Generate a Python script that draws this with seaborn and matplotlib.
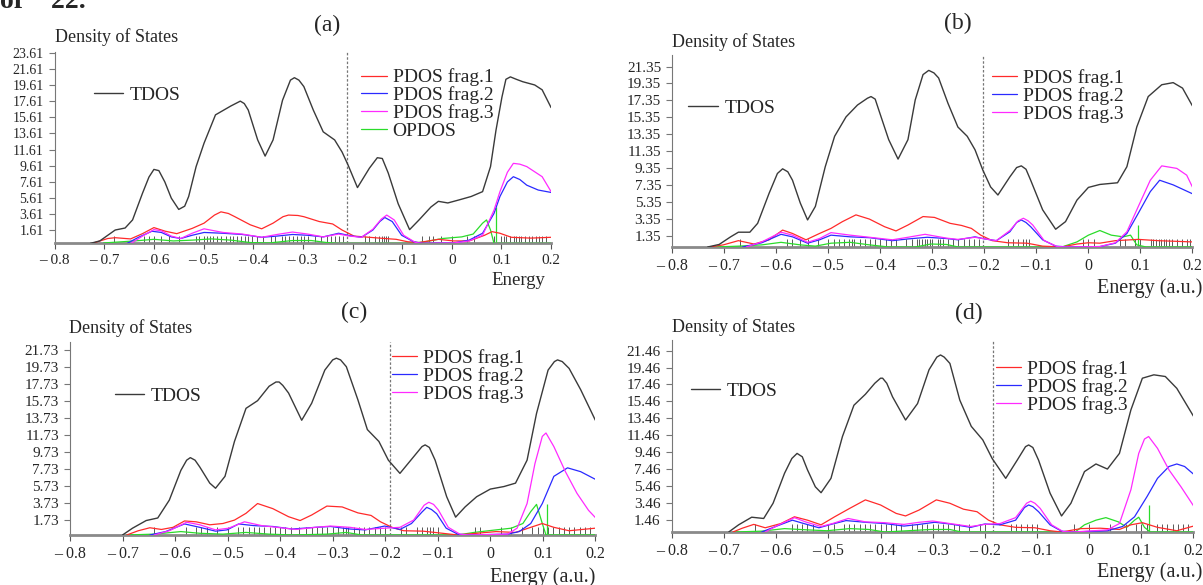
import matplotlib
matplotlib.use("Agg")
import matplotlib.pyplot as plt
import seaborn as sns

sns.set_theme(style="white")
plt.rcParams['font.family'] = ['Liberation Serif', 'DejaVu Serif']
plt.rcParams['axes.unicode_minus'] = False

# x axis (energy, a.u.)
x_ticks = [-0.8, -0.7, -0.6, -0.5, -0.4, -0.3, -0.2, -0.1, 0.0, 0.1, 0.2]
x_tick_labels = ["– 0.8", "– 0.7", "– 0.6", "– 0.5", "– 0.4", "– 0.3",
                 "– 0.2", "– 0.1", "0", "0.1", "0.2"]

# ---------------- panel (a) ----------------
a_yticks = [1.61, 3.61, 5.61, 7.61, 9.61, 11.61, 13.61, 15.61, 17.61, 19.61, 21.61, 23.61]
a_homo = -0.211
a_tdos_x = [-0.728, -0.709, -0.678, -0.658, -0.643, -0.623, -0.610, -0.600, -0.590, -0.578,
            -0.565, -0.550, -0.538, -0.530, -0.515, -0.499, -0.476, -0.445, -0.426, -0.418,
            -0.410, -0.391, -0.376, -0.360, -0.341, -0.325, -0.317, -0.308, -0.298, -0.279,
            -0.259, -0.236, -0.221, -0.209, -0.190, -0.166, -0.150, -0.140, -0.128, -0.108,
            -0.085, -0.066, -0.042, -0.027, -0.008, 0.016, 0.039, 0.062, 0.078, 0.089,
            0.101, 0.109, 0.118, 0.130, 0.143, 0.167, 0.182, 0.200]
a_tdos_y = [0.0, 0.3, 1.65, 1.9, 2.9, 6.2, 8.2, 9.15, 9.0, 7.6,
            5.6, 4.2, 4.6, 5.8, 9.5, 12.4, 15.9, 17.0, 17.6, 17.3,
            16.5, 12.8, 10.8, 12.8, 17.7, 20.2, 20.5, 20.2, 19.4, 16.5,
            13.8, 12.8, 11.3, 9.7, 6.9, 9.3, 10.6, 10.5, 8.7, 4.9,
            1.7, 2.9, 4.5, 5.2, 5.0, 5.4, 5.8, 6.4, 9.5, 14.0,
            18.1, 20.3, 20.6, 20.3, 20.0, 19.6, 19.0, 16.8]
a_f1_x = [-0.724, -0.693, -0.678, -0.647, -0.623, -0.600, -0.577, -0.554, -0.523, -0.499,
          -0.478, -0.465, -0.450, -0.437, -0.406, -0.383, -0.360, -0.340, -0.329, -0.310,
          -0.298, -0.267, -0.240, -0.221, -0.197, -0.166, -0.135, -0.112, -0.089, -0.066,
          -0.027, 0.004, 0.035, 0.066, 0.081, 0.097, 0.120, 0.159, 0.200]
a_f1_y = [0.0, 0.6, 0.7, 0.55, 1.2, 1.95, 1.5, 1.2, 1.85, 2.5,
          3.5, 3.9, 3.7, 3.3, 2.3, 1.8, 2.5, 3.3, 3.5, 3.45,
          3.3, 2.7, 2.4, 1.65, 0.9, 0.75, 0.6, 0.5, 0.2, 0.1,
          0.5, 0.3, 0.3, 1.0, 1.45, 1.25, 0.75, 0.65, 0.75]
a_f2_x = [-0.654, -0.631, -0.604, -0.585, -0.565, -0.546, -0.523, -0.499, -0.461, -0.422,
          -0.383, -0.352, -0.321, -0.290, -0.259, -0.228, -0.205, -0.182, -0.159, -0.145,
          -0.135, -0.120, -0.101, -0.077, -0.058, 0.004, 0.035, 0.062, 0.085, 0.097,
          0.112, 0.124, 0.137, 0.151, 0.174, 0.200]
a_f2_y = [0.0, 0.75, 1.5, 1.35, 0.8, 0.6, 1.0, 1.35, 1.25, 1.1,
          0.75, 0.9, 1.1, 1.0, 0.8, 1.25, 0.95, 0.75, 1.65, 2.7,
          3.2, 2.7, 1.0, 0.2, 0.0, 0.05, 0.4, 1.25, 3.7, 5.8,
          7.6, 8.25, 7.9, 7.2, 6.6, 6.3]
a_f3_x = [-0.646, -0.623, -0.600, -0.585, -0.565, -0.546, -0.523, -0.499, -0.461, -0.422,
          -0.383, -0.352, -0.321, -0.290, -0.259, -0.228, -0.205, -0.182, -0.159, -0.142,
          -0.131, -0.116, -0.097, -0.073, -0.058, 0.004, 0.035, 0.062, 0.085, 0.097,
          0.112, 0.124, 0.137, 0.151, 0.182, 0.200]
a_f3_y = [0.0, 0.9, 1.7, 1.55, 0.9, 0.6, 1.25, 1.8, 1.35, 1.15,
          0.75, 1.1, 1.4, 1.15, 0.8, 1.15, 0.9, 0.75, 1.75, 3.0,
          3.5, 2.9, 1.0, 0.1, 0.0, 0.05, 0.3, 1.0, 4.1, 6.4,
          8.8, 9.9, 9.8, 9.5, 8.25, 6.4]
a_op_x = [-0.701, -0.639, -0.600, -0.561, -0.523, -0.484, -0.445, -0.406, -0.368, -0.321,
          -0.283, -0.252, -0.230, -0.089, -0.058, -0.019, 0.020, 0.043, 0.062, 0.070,
          0.078, 0.085, 0.100, 0.200]
a_op_y = [0.05, 0.3, 0.5, 0.3, 0.4, 0.55, 0.4, 0.1, 0.05, 0.35,
          0.35, 0.1, 0.0, 0.0, 0.15, 0.6, 0.8, 1.15, 2.5, 2.9,
          1.65, 0.0, 0.0, 0.0]
a_op_stick_x = [0.089]
a_op_stick_h = [4.45]
a_sticks = [-0.68, -0.62, -0.61, -0.60, -0.585, -0.57, -0.55, -0.515, -0.51, -0.50, -0.493,
            -0.487, -0.48, -0.473, -0.465, -0.455, -0.447, -0.44, -0.432, -0.424, -0.417,
            -0.41, -0.402, -0.393, -0.38, -0.365, -0.357, -0.342, -0.335, -0.327, -0.32,
            -0.312, -0.304, -0.297, -0.29, -0.275, -0.263, -0.252, -0.244, -0.236, -0.228,
            -0.22, -0.174, -0.166, -0.155, -0.147, -0.14, -0.136, -0.132, -0.128, -0.06,
            -0.045, -0.037, -0.022, 0.0, 0.03, 0.045, 0.085, 0.1, 0.105, 0.11, 0.118, 0.125,
            0.13, 0.135, 0.14, 0.148, 0.155, 0.162, 0.17, 0.175, 0.182, 0.19]

# ---------------- panel (b) ----------------
b_yticks = [1.35, 3.35, 5.35, 7.35, 9.35, 11.35, 13.35, 15.35, 17.35, 19.35, 21.35]
b_homo = -0.202
b_tdos_x = [-0.732, -0.710, -0.688, -0.673, -0.651, -0.636, -0.614, -0.598, -0.588, -0.578,
            -0.569, -0.554, -0.540, -0.525, -0.506, -0.488, -0.466, -0.444, -0.425, -0.418,
            -0.410, -0.403, -0.384, -0.366, -0.347, -0.333, -0.318, -0.307, -0.297, -0.288,
            -0.270, -0.251, -0.233, -0.218, -0.203, -0.188, -0.174, -0.151, -0.138, -0.129,
            -0.120, -0.111, -0.088, -0.063, -0.044, -0.022, 0.000, 0.022, 0.056, 0.074,
            0.093, 0.115, 0.141, 0.163, 0.181, 0.200]
b_tdos_y = [0.0, 0.3, 1.2, 1.75, 1.75, 2.8, 6.35, 8.7, 9.25, 8.9,
            7.9, 5.2, 3.2, 4.8, 9.5, 13.1, 15.4, 16.8, 17.6, 17.8,
            17.5, 16.2, 12.7, 10.4, 12.7, 17.4, 20.4, 20.9, 20.6, 20.0,
            17.0, 14.2, 13.1, 11.5, 9.1, 7.1, 6.15, 8.3, 9.4, 9.6,
            9.2, 7.9, 4.4, 2.1, 3.0, 5.55, 7.05, 7.4, 7.6, 9.5,
            14.2, 17.8, 19.2, 19.45, 18.8, 16.7]
b_f1_x = [-0.728, -0.702, -0.673, -0.643, -0.614, -0.588, -0.569, -0.543, -0.517, -0.495,
          -0.473, -0.447, -0.421, -0.392, -0.370, -0.347, -0.318, -0.296, -0.266, -0.244,
          -0.225, -0.207, -0.185, -0.155, -0.118, -0.088, -0.051, -0.022, 0.000, 0.022,
          0.052, 0.096, 0.133, 0.200]
b_f1_y = [0.0, 0.25, 0.75, 0.35, 0.85, 2.0, 1.6, 0.85, 1.6, 2.2,
          3.0, 3.8, 3.3, 2.4, 1.9, 2.6, 3.6, 3.5, 2.8, 2.55,
          2.2, 1.4, 0.75, 0.5, 0.45, 0.1, 0.0, 0.35, 0.5, 0.45,
          0.75, 0.9, 0.75, 0.6]
b_f2_x = [-0.665, -0.628, -0.591, -0.569, -0.540, -0.517, -0.495, -0.458, -0.421, -0.377,
          -0.347, -0.310, -0.273, -0.251, -0.218, -0.199, -0.177, -0.151, -0.138, -0.129,
          -0.120, -0.111, -0.088, -0.063, -0.037, 0.022, 0.052, 0.074, 0.096, 0.119,
          0.137, 0.163, 0.200]
b_f2_y = [0.0, 0.5, 1.5, 1.2, 0.45, 0.85, 1.4, 1.2, 1.1, 0.75,
          0.95, 1.15, 1.0, 0.85, 1.2, 0.95, 0.75, 1.8, 2.9, 3.2,
          2.9, 2.4, 0.85, 0.1, 0.0, 0.05, 0.45, 1.6, 4.0, 6.55,
          7.9, 7.35, 6.3]
b_f3_x = [-0.658, -0.628, -0.591, -0.569, -0.540, -0.517, -0.495, -0.458, -0.421, -0.377,
          -0.347, -0.314, -0.273, -0.251, -0.218, -0.199, -0.177, -0.151, -0.135, -0.125,
          -0.116, -0.107, -0.085, -0.060, -0.037, 0.022, 0.052, 0.074, 0.096, 0.119,
          0.141, 0.170, 0.189, 0.200]
b_f3_y = [0.0, 0.6, 1.75, 1.4, 0.55, 1.0, 1.7, 1.4, 1.15, 0.85,
          1.15, 1.5, 1.05, 0.9, 1.15, 0.95, 0.75, 1.95, 3.1, 3.4,
          3.1, 2.6, 0.75, 0.05, 0.0, 0.05, 0.5, 1.8, 4.8, 7.9,
          9.6, 9.3, 8.5, 7.1]
b_op_x = [-0.717, -0.673, -0.628, -0.591, -0.554, -0.525, -0.495, -0.458, -0.421, -0.384,
          -0.333, -0.303, -0.273, -0.251, -0.051, -0.022, 0.000, 0.022, 0.044, 0.067,
          0.081, 0.093, 0.111, 0.200]
b_op_y = [0.0, 0.1, 0.25, 0.55, 0.25, 0.1, 0.45, 0.55, 0.25, 0.0,
          0.0, 0.35, 0.3, 0.0, 0.0, 0.6, 1.4, 1.95, 1.4, 1.2,
          1.4, 0.25, 0.0, 0.0]
b_op_stick_x = [0.096]
b_op_stick_h = [2.6]
b_sticks = [-0.67, -0.58, -0.57, -0.555, -0.54, -0.52, -0.5, -0.49, -0.48, -0.47, -0.46,
            -0.455, -0.45, -0.44, -0.43, -0.42, -0.41, -0.40, -0.39, -0.38, -0.37, -0.35,
            -0.34, -0.33, -0.325, -0.32, -0.315, -0.31, -0.305, -0.3, -0.29, -0.285, -0.28,
            -0.27, -0.26, -0.25, -0.24, -0.23, -0.22, -0.21, -0.155, -0.145, -0.135,
            -0.125, -0.12, -0.115, -0.01, 0.0, 0.01, 0.06, 0.07, 0.09, 0.1, 0.12, 0.125,
            0.13, 0.135, 0.14, 0.145, 0.15, 0.155, 0.16, 0.17, 0.18, 0.19, 0.195]

# ---------------- panel (c) ----------------
c_yticks = [1.73, 3.73, 5.73, 7.73, 9.73, 11.73, 13.73, 15.73, 17.73, 19.73, 21.73]
c_homo = -0.191
c_tdos_x = [-0.700, -0.681, -0.655, -0.633, -0.611, -0.589, -0.578, -0.571, -0.562, -0.553,
            -0.534, -0.523, -0.505, -0.487, -0.465, -0.443, -0.421, -0.408, -0.402, -0.395,
            -0.384, -0.359, -0.340, -0.315, -0.300, -0.293, -0.285, -0.274, -0.252, -0.234,
            -0.212, -0.194, -0.172, -0.146, -0.130, -0.124, -0.116, -0.105, -0.083, -0.066,
            -0.048, -0.026, 0.000, 0.026, 0.048, 0.070, 0.088, 0.110, 0.122, 0.128,
            0.137, 0.150, 0.172, 0.200]
c_tdos_y = [0.0, 0.8, 1.7, 2.0, 4.1, 7.6, 8.8, 9.1, 8.8, 8.0,
            6.1, 5.5, 6.9, 11.0, 14.9, 15.8, 17.5, 18.0, 18.0, 17.6,
            16.7, 13.5, 15.5, 19.4, 20.6, 20.8, 20.6, 19.8, 15.9, 12.4,
            11.0, 8.8, 7.25, 9.2, 10.4, 10.6, 10.3, 8.8, 4.5, 2.1,
            3.3, 4.5, 5.4, 5.7, 6.1, 8.8, 14.3, 19.4, 20.4, 20.6,
            20.4, 19.6, 17.1, 13.5]
c_f1_x = [-0.692, -0.670, -0.648, -0.626, -0.604, -0.582, -0.560, -0.534, -0.509, -0.487,
          -0.465, -0.443, -0.414, -0.384, -0.362, -0.340, -0.311, -0.282, -0.252, -0.227,
          -0.209, -0.187, -0.165, -0.128, -0.091, -0.062, -0.026, 0.011, 0.048, 0.077,
          0.099, 0.121, 0.150, 0.200]
c_f1_y = [0.0, 0.5, 0.85, 0.65, 0.9, 1.65, 1.55, 1.2, 1.35, 1.75,
          2.55, 3.7, 3.1, 2.15, 1.7, 2.35, 3.4, 3.3, 2.6, 2.3,
          1.55, 0.9, 0.5, 0.45, 0.2, 0.0, 0.2, 0.4, 0.3, 0.9,
          1.35, 0.9, 0.5, 0.8]
c_f2_x = [-0.648, -0.618, -0.582, -0.553, -0.523, -0.501, -0.479, -0.450, -0.414, -0.377,
          -0.333, -0.304, -0.267, -0.238, -0.201, -0.172, -0.150, -0.130, -0.121, -0.112,
          -0.102, -0.084, -0.062, -0.040, 0.033, 0.055, 0.077, 0.099, 0.121, 0.147,
          0.172, 0.200]
c_f2_y = [0.0, 0.4, 1.3, 0.9, 0.45, 0.6, 1.3, 1.1, 1.0, 0.7,
          0.9, 1.0, 0.7, 0.6, 1.05, 0.65, 1.35, 2.7, 3.25, 3.0,
          2.5, 0.8, 0.1, 0.0, 0.1, 0.4, 1.35, 3.7, 6.9, 7.9,
          7.45, 6.55]
c_f3_x = [-0.640, -0.611, -0.578, -0.553, -0.523, -0.498, -0.468, -0.435, -0.406, -0.370,
          -0.333, -0.304, -0.267, -0.238, -0.201, -0.172, -0.146, -0.126, -0.117, -0.108,
          -0.099, -0.080, -0.058, -0.040, 0.033, 0.051, 0.070, 0.085, 0.099, 0.106,
          0.121, 0.143, 0.165, 0.187, 0.200]
c_f3_y = [0.0, 0.5, 1.5, 1.2, 0.6, 0.8, 1.55, 1.1, 0.9, 0.65,
          0.9, 1.05, 0.9, 0.65, 0.8, 0.9, 1.75, 3.5, 3.85, 3.6,
          2.95, 0.9, 0.1, 0.0, 0.1, 0.8, 3.7, 8.4, 11.6, 12.0,
          10.4, 7.45, 4.9, 2.9, 2.05]
c_op_x = [-0.692, -0.640, -0.589, -0.553, -0.509, -0.465, -0.421, -0.377, -0.311, -0.274,
          -0.245, -0.062, -0.031, 0.011, 0.040, 0.062, 0.077, 0.088, 0.099, 0.106,
          0.120, 0.200]
c_op_y = [0.0, 0.1, 0.4, 0.2, 0.1, 0.3, 0.1, 0.0, 0.1, 0.3,
          0.0, 0.0, 0.3, 0.6, 0.8, 1.35, 2.75, 3.6, 1.35, 0.0,
          0.0, 0.0]
c_op_stick_x = [0.108]
c_op_stick_h = [3.7]
c_sticks = [-0.64, -0.58, -0.56, -0.55, -0.54, -0.52, -0.5, -0.48, -0.47, -0.46, -0.45,
            -0.44, -0.43, -0.42, -0.41, -0.4, -0.39, -0.38, -0.365, -0.35, -0.34, -0.33,
            -0.32, -0.31, -0.3, -0.29, -0.28, -0.275, -0.27, -0.26, -0.25, -0.24, -0.23,
            -0.22, -0.21, -0.2, -0.17, -0.16, -0.14, -0.13, -0.12, -0.115, -0.11, -0.1,
            -0.03, -0.02, 0.02, 0.04, 0.06, 0.08, 0.09, 0.1, 0.11, 0.12, 0.13, 0.14, 0.15,
            0.16, 0.17, 0.18, 0.19, 0.2]

# ---------------- panel (d) ----------------
d_yticks = [1.46, 3.46, 5.46, 7.46, 9.46, 11.46, 13.46, 15.46, 17.46, 19.46, 21.46]
d_homo = -0.185
d_tdos_x = [-0.691, -0.672, -0.647, -0.624, -0.606, -0.584, -0.570, -0.560, -0.550, -0.540,
            -0.525, -0.514, -0.495, -0.473, -0.451, -0.429, -0.411, -0.400, -0.396, -0.388,
            -0.377, -0.352, -0.329, -0.307, -0.292, -0.285, -0.278, -0.267, -0.248, -0.226,
            -0.204, -0.186, -0.160, -0.138, -0.122, -0.116, -0.108, -0.097, -0.075, -0.053,
            -0.035, -0.009, 0.013, 0.035, 0.058, 0.080, 0.102, 0.124, 0.146, 0.168, 0.200]
d_tdos_y = [0.0, 0.85, 1.75, 1.6, 3.4, 6.95, 8.7, 9.3, 8.9, 7.35,
            5.35, 4.65, 6.35, 11.3, 15.0, 16.3, 17.6, 18.2, 18.2, 17.6,
            16.0, 13.25, 15.2, 19.2, 20.7, 20.95, 20.7, 19.95, 15.6, 12.5,
            10.9, 8.7, 6.35, 8.5, 10.1, 10.3, 10.0, 8.5, 4.6, 1.9,
            3.4, 7.15, 8.05, 7.45, 9.3, 14.45, 18.2, 18.6, 18.4, 17.0, 13.7]
d_f1_x = [-0.683, -0.665, -0.643, -0.621, -0.591, -0.565, -0.540, -0.514, -0.488, -0.459,
          -0.429, -0.400, -0.370, -0.352, -0.326, -0.293, -0.267, -0.241, -0.215, -0.193,
          -0.171, -0.141, -0.104, -0.075, -0.053, -0.016, 0.021, 0.058, 0.080, 0.102,
          0.131, 0.168, 0.200]
d_f1_y = [0.0, 0.45, 0.9, 0.5, 1.0, 1.8, 1.4, 0.85, 1.8, 2.8,
          3.8, 3.2, 2.2, 1.9, 2.6, 3.8, 3.4, 2.7, 2.4, 1.4,
          0.85, 0.55, 0.5, 0.15, 0.0, 0.4, 0.45, 0.3, 0.85, 1.1,
          0.55, 0.15, 0.7]
d_f2_x = [-0.628, -0.599, -0.569, -0.547, -0.518, -0.495, -0.466, -0.429, -0.392, -0.355,
          -0.326, -0.296, -0.267, -0.227, -0.200, -0.171, -0.141, -0.124, -0.116, -0.108,
          -0.097, -0.075, -0.053, -0.031, 0.035, 0.064, 0.087, 0.111, 0.131, 0.153,
          0.168, 0.183, 0.200]
d_f2_y = [0.0, 0.7, 1.4, 1.0, 0.5, 0.9, 1.35, 1.15, 1.0, 0.7,
          0.9, 1.15, 0.95, 0.55, 0.95, 0.85, 1.4, 2.9, 3.2, 3.0,
          2.4, 0.85, 0.1, 0.0, 0.15, 0.65, 1.8, 4.2, 6.35, 7.75,
          8.05, 7.75, 6.85]
d_f3_x = [-0.621, -0.595, -0.565, -0.544, -0.514, -0.492, -0.462, -0.429, -0.392, -0.355,
          -0.326, -0.300, -0.267, -0.227, -0.200, -0.171, -0.141, -0.120, -0.112, -0.104,
          -0.094, -0.072, -0.050, -0.031, 0.035, 0.058, 0.080, 0.095, 0.106, 0.114,
          0.131, 0.153, 0.176, 0.200]
d_f3_y = [0.0, 0.85, 1.7, 1.2, 0.65, 1.0, 1.6, 1.2, 1.1, 0.9,
          1.15, 1.3, 1.0, 0.65, 0.9, 1.0, 1.7, 3.4, 3.65, 3.4,
          2.8, 0.85, 0.05, 0.0, 0.25, 1.0, 5.0, 9.3, 11.0, 11.3,
          9.9, 7.35, 5.35, 3.1]
d_op_x = [-0.680, -0.628, -0.584, -0.540, -0.503, -0.459, -0.422, -0.392, -0.303, -0.267,
          -0.245, -0.027, -0.009, 0.013, 0.032, 0.056, 0.072, 0.087, 0.095, 0.106,
          0.117, 0.200]
d_op_y = [0.0, 0.1, 0.4, 0.25, 0.15, 0.4, 0.3, 0.0, 0.3, 0.3,
          0.0, 0.0, 0.85, 1.4, 1.7, 1.2, 0.55, 1.4, 1.75, 0.55,
          0.0, 0.0]
d_op_stick_x = [0.114]
d_op_stick_h = [3.2]
d_sticks = [-0.64, -0.57, -0.56, -0.55, -0.54, -0.53, -0.5, -0.49, -0.47, -0.46, -0.45,
            -0.44, -0.43, -0.42, -0.41, -0.4, -0.39, -0.38, -0.37, -0.36, -0.34, -0.33,
            -0.32, -0.31, -0.3, -0.29, -0.28, -0.27, -0.26, -0.25, -0.23, -0.21, -0.2,
            -0.15, -0.14, -0.13, -0.12, -0.11, -0.1, -0.03, 0.0, 0.04, 0.07, 0.09, 0.1,
            0.11, 0.13, 0.14, 0.15, 0.16, 0.17, 0.18, 0.19]

# colours
c_tdos = "#3a3a3a"
c_f1 = "#ff2a2a"
c_f2 = "#2a2aff"
c_f3 = "#ff2aff"
c_op = "#2adc2a"

fig = plt.figure(figsize=(12.03, 5.85), dpi=100)
fig.patch.set_facecolor("white")


def px(x, y):
    # pixel position (from top-left) -> figure fraction
    return x / 1203, 1 - y / 585


def draw_panel(rect, ylim_top, yticks, ytick_size, xtick_size, homo, curves, op_stick,
               sticks, show_opdos, tdos_anchor, frag_anchor):
    ax = fig.add_axes(rect)
    ax.set_facecolor("white")
    # stick spectrum
    ax.vlines(sticks, 0, 0.95, color="#222222", lw=0.7, alpha=0.75, zorder=1)
    ax.vlines(op_stick[0], 0, op_stick[1], color=c_op, lw=0.9, zorder=2)
    tx, ty, fx, fy, fx2, fy2, f3x, f3y, ox, oy = curves
    sns.lineplot(x=ox, y=oy, ax=ax, color=c_op, lw=0.9, sort=False, estimator=None,
                 label="OPDOS" if show_opdos else None, zorder=3)
    sns.lineplot(x=fx, y=fy, ax=ax, color=c_f1, lw=0.9, sort=False, estimator=None,
                 label="PDOS frag.1", zorder=4)
    sns.lineplot(x=fx2, y=fy2, ax=ax, color=c_f2, lw=0.9, sort=False, estimator=None,
                 label="PDOS frag.2", zorder=5)
    sns.lineplot(x=f3x, y=f3y, ax=ax, color=c_f3, lw=0.9, sort=False, estimator=None,
                 label="PDOS frag.3", zorder=5)
    sns.lineplot(x=tx, y=ty, ax=ax, color=c_tdos, lw=1.0, sort=False, estimator=None,
                 label="TDOS", zorder=6)
    ax.axvline(homo, color="#777777", lw=0.9, ls=(0, (2, 1.5)), zorder=2)

    ax.set_xlim(-0.8, 0.2)
    ax.set_ylim(0, ylim_top)
    ax.set_xticks(x_ticks)
    ax.set_xticklabels(x_tick_labels, fontsize=xtick_size)
    ax.set_yticks(yticks)
    ax.set_yticklabels([f"{v:.2f}" for v in yticks], fontsize=ytick_size)
    ax.set_xlabel("")
    ax.set_ylabel("")
    for s in ["top", "right"]:
        ax.spines[s].set_visible(False)
    ax.spines["left"].set_color("#777777")
    ax.spines["left"].set_linewidth(0.8)
    ax.spines["bottom"].set_color("#8a8a8a")
    ax.spines["bottom"].set_linewidth(2.0)
    ax.tick_params(axis="x", direction="out", length=4, width=0.8, color="#555555",
                   pad=4, bottom=True)
    ax.tick_params(axis="y", direction="out", length=4, width=0.8, color="#777777",
                   pad=4, left=True)
    ax.grid(False)

    handles, labels = ax.get_legend_handles_labels()
    lookup = dict(zip(labels, handles))
    leg1 = ax.legend([lookup["TDOS"]], ["TDOS"], loc="center left",
                     bbox_to_anchor=tdos_anchor, frameon=False, fontsize=14,
                     handlelength=1.5, handletextpad=0.35, borderpad=0, borderaxespad=0)
    ax.add_artist(leg1)
    names = ["PDOS frag.1", "PDOS frag.2", "PDOS frag.3"]
    if show_opdos:
        names.append("OPDOS")
    ax.legend([lookup[n] for n in names], names, loc="center left",
              bbox_to_anchor=frag_anchor, frameon=False, fontsize=14,
              handlelength=1.3, handletextpad=0.3, borderpad=0, borderaxespad=0,
              labelspacing=0.0)
    return ax


draw_panel([0.0454, 0.584, 0.4127, 0.3274], 23.7, a_yticks, 10, 11, a_homo,
           (a_tdos_x, a_tdos_y, a_f1_x, a_f1_y, a_f2_x, a_f2_y, a_f3_x, a_f3_y, a_op_x, a_op_y),
           (a_op_stick_x, a_op_stick_h), a_sticks, True, (0.079, 0.774), (0.618, 0.727))
draw_panel([0.5589, 0.5778, 0.4323, 0.3279], 22.7, b_yticks, 11, 11.5, b_homo,
           (b_tdos_x, b_tdos_y, b_f1_x, b_f1_y, b_f2_x, b_f2_y, b_f3_x, b_f3_y, b_op_x, b_op_y),
           (b_op_stick_x, b_op_stick_h), b_sticks, False, (0.031, 0.725), (0.615, 0.787))
draw_panel([0.0582, 0.0855, 0.4367, 0.3298], 22.7, c_yticks, 11, 11.5, c_homo,
           (c_tdos_x, c_tdos_y, c_f1_x, c_f1_y, c_f2_x, c_f2_y, c_f3_x, c_f3_y, c_op_x, c_op_y),
           (c_op_stick_x, c_op_stick_h), c_sticks, False, (0.086, 0.72), (0.613, 0.824))
draw_panel([0.5585, 0.0906, 0.4336, 0.3279], 22.7, d_yticks, 11, 11.5, d_homo,
           (d_tdos_x, d_tdos_y, d_f1_x, d_f1_y, d_f2_x, d_f2_y, d_f3_x, d_f3_y, d_op_x, d_op_y),
           (d_op_stick_x, d_op_stick_h), d_sticks, False, (0.036, 0.735), (0.621, 0.756))

# panel letters
for lab, (x, y) in zip(["(a)", "(b)", "(c)", "(d)"],
                       [(327, 25), (958, 23), (354, 312), (969, 313)]):
    fig.text(*px(x, y), lab, ha="center", va="center", fontsize=17)

# y-axis captions
for x, y in [(55, 37), (672, 42), (69, 328), (672, 327)]:
    fig.text(*px(x, y), "Density of States", ha="left", va="center", fontsize=13)

# x-axis captions
fig.text(*px(545, 280), "Energy", ha="right", va="center", fontsize=13.5)
fig.text(*px(1202, 288), "Energy (a.u.)", ha="right", va="center", fontsize=14.5)
fig.text(*px(595, 577), "Energy (a.u.)", ha="right", va="center", fontsize=14.5)
fig.text(*px(1202, 572), "Energy (a.u.)", ha="right", va="center", fontsize=14.5)

# cut-off text from the page above
fig.text(*px(0, 8), "of    22.", ha="left", va="baseline", fontsize=20, fontweight="bold")

fig.savefig("out.png", dpi=100, facecolor="white")
